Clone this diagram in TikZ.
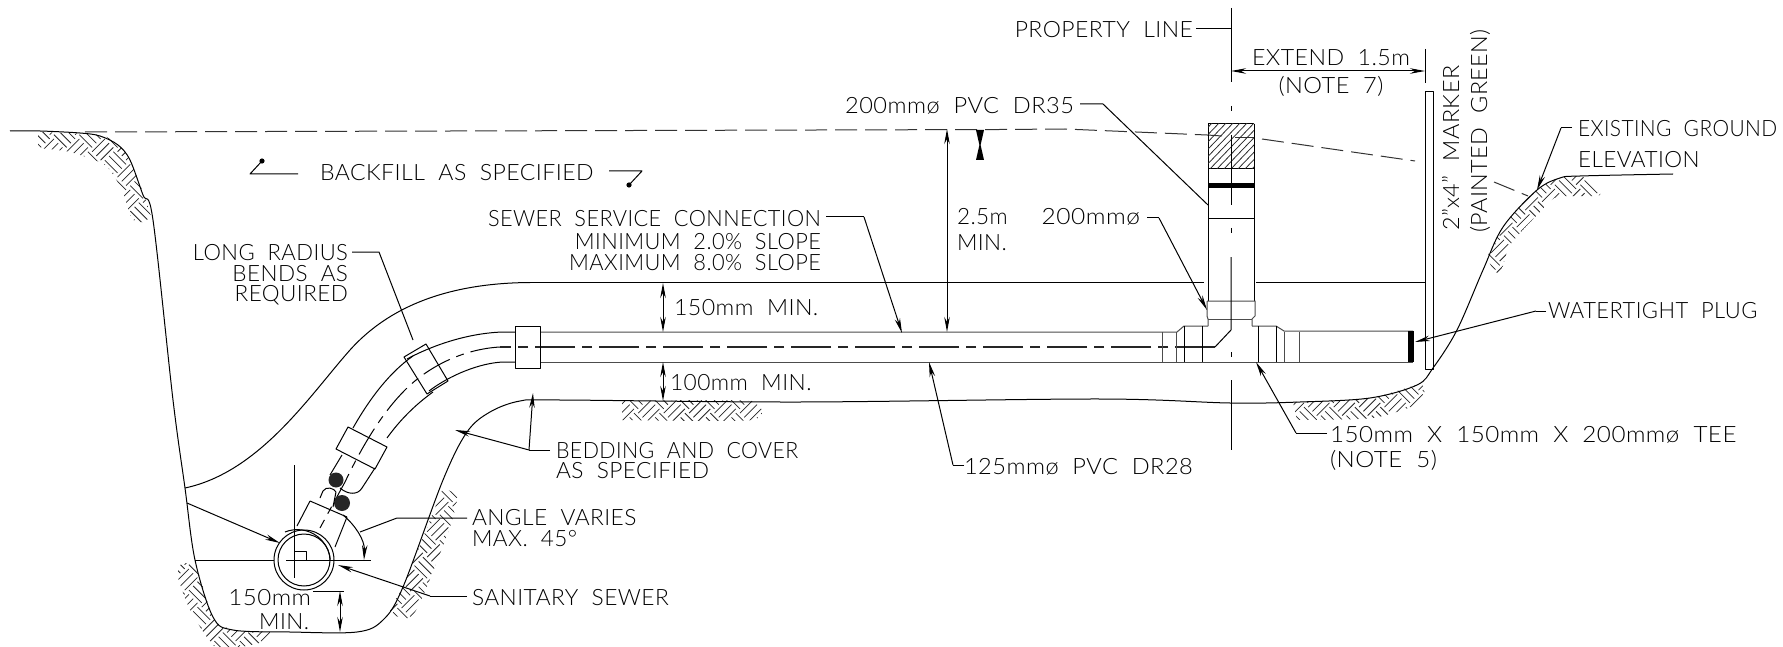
\documentclass[tikz,border=0pt]{standalone}
\usepackage{fontspec}
\setmainfont{Lato}[UprightFont=* Light,LetterSpace=2,WordSpace=2.0]
\usetikzlibrary{arrows.meta}
\tikzset{
  x=1pt,y=-1pt,
  cad/.style={line width=1pt,black,line join=round},
  thin cad/.style={line width=0.75pt,black!85},
  lead/.style={cad,-{Stealth[length=15pt,width=5.5pt]}},
  both/.style={cad,{Stealth[length=15pt,width=5.5pt]}-{Stealth[length=15pt,width=5.5pt]}},
  gnd/.style={cad,smooth,tension=0.55},
  cdash/.style={line width=1.2pt,black!85,dash pattern=on 40pt off 7pt on 10pt off 7pt},
  surf/.style={line width=1pt,black!80,dash pattern=on 22pt off 8pt},
  pipe/.style={line width=1pt,black!70},
  txt/.style={font=\fontsize{22.5}{23}\selectfont,inner sep=0pt,outer sep=0pt,text=black},
}
\newcommand\lblW[5][1]{\node[txt,anchor=base west] (#2) at (#3,#4+9) {\scalebox{#1}[1]{#5}};}
\newcommand\lblE[5][1]{\node[txt,anchor=base east] (#2) at (#3,#4+9) {\scalebox{#1}[1]{#5}};}
\newcommand\lblC[5][1]{\node[txt,anchor=base] (#2) at (#3,#4+9) {\scalebox{#1}[1]{#5}};}
% earth: clip path, centre x, centre y, half-count
\newcommand\earth[4]{%
  \begin{scope}
    \clip plot[smooth,tension=0.4] coordinates {#1} -- cycle;
    \begin{scope}[shift={(#2,#3)},rotate=45]
      \foreach \i in {-#4,...,#4}{\foreach \j in {-#4,...,#4}{%
        \pgfmathtruncatemacro\mm{mod(abs(\i+\j),2)}%
        \ifnum\mm=0
          \foreach \k in {0,6,12}{\draw[thin cad] (\i*18,\j*18+\k+3)--(\i*18+18,\j*18+\k+3);}
        \else
          \foreach \k in {0,6,12}{\draw[thin cad] (\i*18+\k+3,\j*18)--(\i*18+\k+3,\j*18+18);}
        \fi}}
    \end{scope}
  \end{scope}}
\begin{document}
\begin{tikzpicture}
\useasboundingbox (0,0) rectangle (1783,647);
\fill[white] (0,0) rectangle (1783,647);

% earth hatching
\earth{(38,132)(100,135)(118,145)(130,160)(150,212)(147,222)(132,219)(122,190)(105,165)(70,152)(38,148)}{90}{175}{6}
\earth{(178,566)(195,565)(213,617)(233,630)(270,632)(262,642)(240,647)(215,647)(190,610)(178,578)}{225}{605}{5}
\earth{(443,488)(457,497)(449,530)(420,603)(408,618)(390,612)(403,587)}{425}{555}{5}
\earth{(622,401)(752,401)(752,420)(622,420)}{687}{411}{5}
\earth{(1293,402)(1370,398)(1417,385)(1424,388)(1420,403)(1373,418)(1297,420)}{1357}{405}{6}
\earth{(1488,255)(1503,227)(1537,190)(1560,178)(1583,177)(1600,195)(1557,197)(1540,212)(1510,245)(1500,274)(1490,264)}{1540}{225}{6}

% ground, trench
\draw[gnd] plot coordinates {(10,131)(40,131)(80,133)(100,136)(118,145)(130,160)(143,195)(153,220)(173,400)(185,488)(195,560)(213,617)(233,630)(290,632)(357,632)(383,620)(403,587)(443,480)(467,432)(490,412)(520,401)(560,400)(800,402)(1100,399)(1230,403)(1300,402)(1370,398)(1417,385)(1433,368)(1457,330)(1483,270)(1503,227)(1537,190)(1560,178)(1580,176)(1673,174)};
% surface line
\draw[surf] (85,132) -- (1000,129.5) -- (1065,129) -- (1207,135);
\draw[surf] (1207,135) -- (1222,136);
\draw[surf] (1235,138) -- (1254,138);
\draw[surf] (1262,139) -- (1415,161);
\draw[surf] (1494,182) -- (1528,196);

% top of bedding
\draw[cad] (185,488) .. controls (260,472) and (310,395) .. (350,350) .. controls (395,300) and (460,283) .. (530,282.5);
\draw[cad] (530,282.5) -- (1204,282.5);
\draw[cad] (1256,282.5) -- (1425,282.5);

% pipe run
\draw[cad] (515,332) -- (503,332) .. controls (470,333) and (435,344) .. (407,359);
\draw[cad] (515,362) -- (503,362) .. controls (480,363) and (450,375) .. (429,391);
\draw[cad] (413,356) .. controls (390,372) and (370,398) .. (353,428);
\draw[cad] (433,392) .. controls (415,405) and (400,420) .. (387,438);
\draw[pipe] (540,332) -- (1177,332) -- (1184,326) -- (1208,326);
\draw[pipe] (540,362) -- (1413,362);
\draw[pipe] (1252,326) -- (1276,326) -- (1284,331) -- (1413,331);
\fill[black] (1408,331) rectangle (1413.5,362);
% centre lines of the run
\draw[cdash] (1215,347) -- (500,347);
\draw[cad,dash pattern=on 30pt off 7pt on 8pt off 7pt] (500,347) .. controls (465,349) and (430,365) .. (405,390) .. controls (385,410) and (365,440) .. (345,482) -- (320,528);
% couplings
\draw[cad] (515,326) rectangle (540,368);
\draw[cad] (404,357) -- (426,344) -- (448,381) -- (427,394) -- cycle;
\draw[cad] (348,427) -- (387,447) -- (375,469) -- (336,449) -- cycle;
% vertical ticks in pipe
\foreach \q in {1162,1176,1299,1284}{\draw[pipe] (\q,332) -- (\q,362);}
\foreach \q in {1184,1202,1258,1276}{\draw[cad] (\q,326) -- (\q,362);}

% riser
\draw[cad] (1208,124) -- (1208,301);
\draw[cad] (1254,124) -- (1254,301);
\draw[cad] (1208,124) -- (1254,124);
\draw[cad] (1208,169) -- (1254,169);
\draw[cad] (1208,219) -- (1254,219);
\fill[black] (1208,183.5) rectangle (1254,188.5);
\begin{scope}
  \clip (1208,124) rectangle (1254,169);
  \foreach \q in {-56,-49,...,70}{\draw[thin cad] (1200+\q,172) -- (1200+\q+50,120);}
\end{scope}
% collar
\draw[pipe] (1207,301) -- (1255,301) -- (1255,316) -- (1252,319) -- (1252,326);
\draw[pipe] (1207,301) -- (1207,316) -- (1208,319) -- (1208,326);
\draw[pipe] (1208,319) -- (1252,319);

% centre lines
\draw[cad] (1231,8) -- (1231,82);
\draw[cad] (1231,106) -- (1231,111);
\draw[cad] (1231,135) -- (1231,205);
\draw[cad] (1231,228) -- (1231,233);
\draw[cad] (1231,257) -- (1231,330) -- (1215,347);
\draw[cad] (1231,352) -- (1231,357);
\draw[cad] (1231,380) -- (1231,450);

% lower bend
\draw[cad] (342,455) -- (330,475);
\draw[cad] (375,468) -- (362,488) .. controls (358,495) and (348,495) .. (340,488);
\fill[black!85] (336,480) circle (7.5);
\fill[black!85] (342,503) circle (8);
\draw[cad] (310,501) -- (347,517);
\draw[cad] (310,501) -- (297,526);
\draw[cad] (347,517) -- (335,547);
\draw[cad] (320,498) -- (323,491) .. controls (326,486) and (334,488) .. (336,492);
\draw[cad] (336,492) -- (333,507);

% main sewer
\draw[cad] (304,560) circle (30);
\draw[cad] (304,560) circle (26);
\draw[cad] (285,532) arc[start angle=-112,end angle=-5,radius=33];
\draw[cad] (294,465) -- (294,578);
\draw[cad] (286,560) -- (371,560);
\draw[cad] (294,551) -- (306,551) -- (306,560);
\draw[cad] (195,560) -- (274,560);
\coordinate (trenchL) at (187,503);
\coordinate (sewerL) at (280,543);
\draw[lead] (trenchL) -- (sewerL);
\coordinate (angA) at (343,515);
\coordinate (angB) at (364,560);
\draw[lead] (angA) .. controls (355,525) and (365,540) .. (angB);

% marker post
\draw[cad] (1425,92) rectangle (1433,369);

% labels
\lblE[1.02]{prop}{1193}{29}{PROPERTY LINE}
\coordinate (propA) at (1196,29); \coordinate (propB) at (1231,29);
\draw[cad] (propA) -- (propB);
\lblW[1.03]{ext}{1252}{57}{EXTEND 1.5m}
\lblC[1.05]{note7}{1331}{85}{(NOTE 7)}
\draw[cad] (1425,49) -- (1425,83);
\coordinate (extL) at (1231,71); \coordinate (extR) at (1425,71);
\draw[both] (extL) -- (extR);

\lblE[1.05]{pvc35}{1074}{105}{200mmø PVC DR35}
\coordinate (p35a) at (1080,104); \coordinate (p35b) at (1103,104); \coordinate (p35c) at (1208,205);
\draw[cad] (p35a) -- (p35b) -- (p35c);

\coordinate (d25a) at (947,129); \coordinate (d25b) at (947,332);
\draw[both] (d25a) -- (d25b);
\lblW{d25}{957}{216}{2.5m}
\lblW{d25m}{957}{242}{MIN.}
\fill[black] (976,130) -- (984,130) -- (980.6,145) -- (984,160) -- (976,160) -- (979.4,145) -- cycle;

\lblW[1.025]{backfill}{320}{172}{BACKFILL AS SPECIFIED}
\coordinate (bfa) at (298,174); \coordinate (bfb) at (250,174); \coordinate (bfc) at (262,161);
\draw[cad] (bfa) -- (bfb) -- (bfc); \fill (bfc) circle (2.6);
\coordinate (bfd) at (609,171); \coordinate (bfe) at (642,171); \coordinate (bff) at (629,185);
\draw[cad] (bfd) -- (bfe) -- (bff); \fill (bff) circle (2.6);

\lblE[.965]{ssc}{821}{217}{SEWER SERVICE CONNECTION}
\lblE[.97]{ssc2}{821}{240}{MINIMUM 2.0\% SLOPE}
\lblE[.97]{ssc3}{821}{261}{MAXIMUM 8.0\% SLOPE}
\coordinate (ssa) at (826,217); \coordinate (ssb) at (864,217); \coordinate (ssc4) at (902,333);
\draw[cad] (ssa) -- (ssb); \draw[lead] (ssb) -- (ssc4);

\lblE[.98]{lr}{348}{252}{LONG RADIUS}
\lblE{lr2}{348}{272}{BENDS AS}
\lblE{lr3}{348}{292}{REQUIRED}
\coordinate (lra) at (352,252); \coordinate (lrb) at (379,252); \coordinate (lrc) at (413,340);
\draw[cad] (lra) -- (lrb) -- (lrc);

\lblW[1.03]{d150}{674}{306}{150mm MIN.}
\coordinate (d150a) at (663,283); \coordinate (d150b) at (663,332);
\draw[both] (d150a) -- (d150b);
\lblW[1.01]{d100}{670}{381}{100mm MIN.}
\coordinate (d100a) at (663,362); \coordinate (d100b) at (663,401);
\draw[both] (d100a) -- (d100b);

\lblW[.95]{bed}{556}{449}{BEDDING AND COVER}
\lblW[1.01]{bed2}{556}{469}{AS SPECIFIED}
\coordinate (beda) at (550,450); \coordinate (bedb) at (529,450); \coordinate (bedc) at (533,393); \coordinate (bedd) at (455,430);
\draw[cad] (beda) -- (bedb);
\draw[lead] (bedb) -- (bedc);
\draw[lead] (bedb) -- (bedd);

\lblW[1.01]{ang}{472}{516}{ANGLE VARIES}
\lblW{ang2}{472}{537}{MAX. 45°}
\coordinate (anga) at (467,518); \coordinate (angb) at (397,518); \coordinate (angc) at (360,532);
\draw[cad] (anga) -- (angb) -- (angc);

\lblW[1.01]{san}{472}{596}{SANITARY SEWER}
\coordinate (sana) at (467,596); \coordinate (sanb) at (430,596); \coordinate (sanc) at (338,565);
\draw[cad] (sana) -- (sanb); \draw[lead] (sanb) -- (sanc);

\lblE[1.07]{m150}{311}{596}{150mm}
\lblE{m150b}{309}{620}{MIN.}
\draw[cad] (313,591) -- (344,591);
\coordinate (m150x) at (340,591); \coordinate (m150y) at (340,632);
\draw[both] (m150x) -- (m150y);

\lblE[1.09]{d200}{1140}{216}{200mmø}
\coordinate (d2a) at (1147,218); \coordinate (d2b) at (1159,218); \coordinate (d2c) at (1207,310);
\draw[cad] (d2a) -- (d2b); \draw[lead] (d2b) -- (d2c);

\lblW[1.05]{pvc28}{964}{465}{125mmø PVC DR28}
\coordinate (p28a) at (964,465); \coordinate (p28b) at (953,465); \coordinate (p28c) at (929,362);
\draw[cad] (p28a) -- (p28b); \draw[lead] (p28b) -- (p28c);

\lblW[1.075]{tee}{1330}{433}{150mm X 150mm X 200mmø TEE}
\lblW[1.07]{note5}{1330}{458}{(NOTE 5)}
\coordinate (teea) at (1327,433); \coordinate (teeb) at (1296,433); \coordinate (teec) at (1256,362);
\draw[cad] (teea) -- (teeb); \draw[lead] (teeb) -- (teec);

\lblW[.975]{plug}{1548}{309}{WATERTIGHT PLUG}
\coordinate (pla) at (1546,311); \coordinate (plb) at (1536,311); \coordinate (plc) at (1415,342);
\draw[cad] (pla) -- (plb); \draw[lead] (plb) -- (plc);

\lblW[.93]{exist}{1578}{128}{EXISTING GROUND}
\lblW{exist2}{1578}{159}{ELEVATION}
\coordinate (exa) at (1572,128); \coordinate (exb) at (1561,128); \coordinate (exc) at (1537,190);
\draw[cad] (exa) -- (exb); \draw[lead] (exb) -- (exc);

\node[txt,rotate=90,anchor=base west] (mk) at (1459,231) {\scalebox{1.04}[1]{2”x4” MARKER}};
\node[txt,rotate=90,anchor=base west] (mk2) at (1487,233) {\scalebox{1.04}[1]{(PAINTED GREEN)}};
\end{tikzpicture}
\end{document}
